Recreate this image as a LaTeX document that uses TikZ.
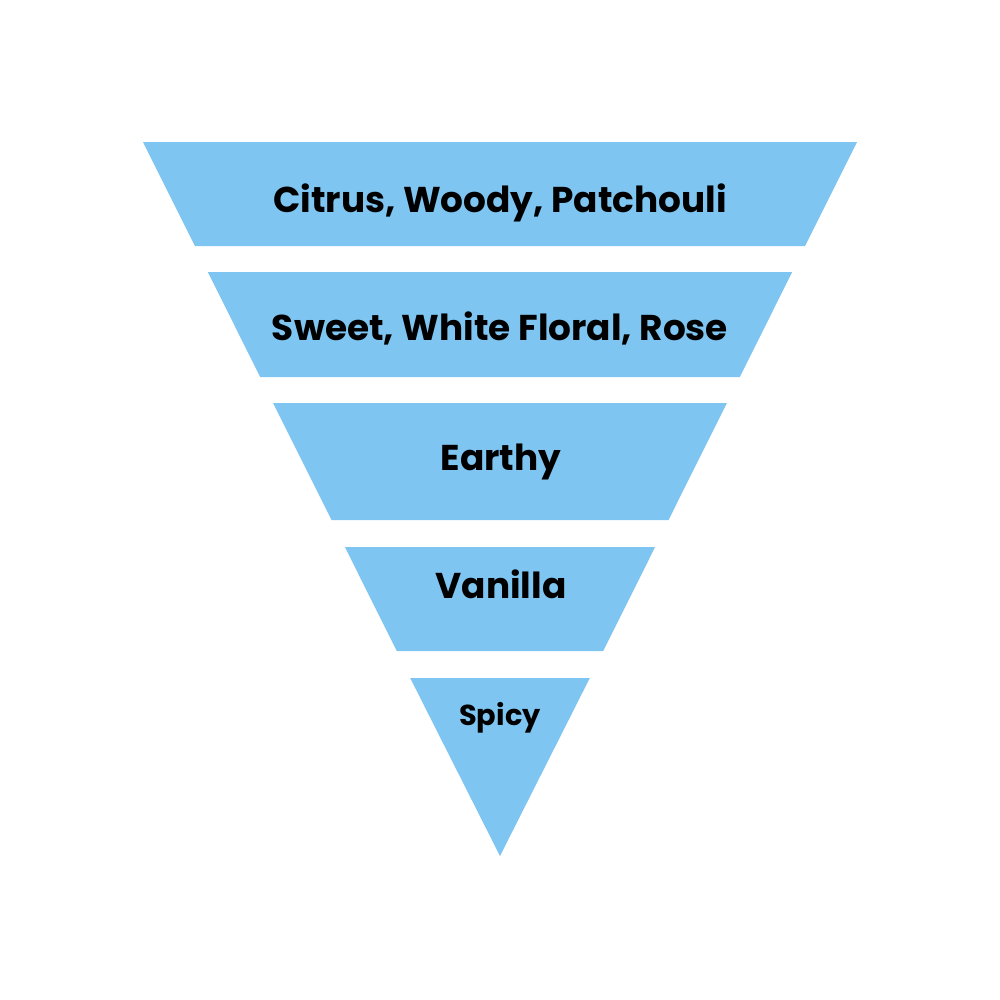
\documentclass[tikz,border=0pt]{standalone}
\usepackage{fontspec}
\setmainfont{Poppins}[BoldFont={Poppins Bold}]
\definecolor{bandblue}{HTML}{7EC5F1}
\begin{document}
\begin{tikzpicture}[x=0.01cm,y=-0.01cm,
  band/.style={fill=bandblue,draw=none},
  lbl/.style={anchor=base,inner sep=0pt,font=\fontsize{10.2}{12}\selectfont\bfseries,text=black},
  lblsmall/.style={lbl,font=\fontsize{8.2}{10}\selectfont\bfseries}]
\useasboundingbox[fill=white] (0,0) rectangle (1000,1000);
\fill[band] (143,142) -- (857,142) -- (805.1,246) -- (194.9,246) -- cycle;
\fill[band] (207.8,272) -- (792.2,272) -- (739.8,377) -- (260.2,377) -- cycle;
\fill[band] (273.1,403) -- (726.9,403) -- (668.5,520) -- (331.5,520) -- cycle;
\fill[band] (344.9,547) -- (655.1,547) -- (603.2,651) -- (396.8,651) -- cycle;
\fill[band] (410.2,678) -- (589.8,678) -- (500,856) -- cycle;
\node[lbl] (t1) at (500,212) {Citrus, Woody, Patchouli};
\node[lbl] (t2) at (500,340) {Sweet, White Floral, Rose};
\node[lbl] (t3) at (501,470) {Earthy};
\node[lbl] (t4) at (501,598) {Vanilla};
\node[lblsmall] (t5) at (500,725) {Spicy};
\end{tikzpicture}
\end{document}
